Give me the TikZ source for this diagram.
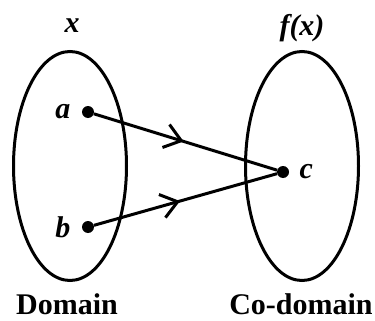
\documentclass[tikz,border=0pt]{standalone}
\usepackage{fontspec}
\setmainfont{Liberation Serif}
\usetikzlibrary{arrows.meta, positioning, shapes.geometric, decorations.markings}

\begin{document}
\begin{tikzpicture}[
    x=1pt, y=-1pt,
    set/.style={
        ellipse, draw=black, line width=3pt,
        minimum width=113pt, minimum height=229pt, inner sep=0pt,
    },
    elem/.style={
        circle, fill=black, inner sep=0pt, minimum size=12pt,
    },
    elemname/.style={
        font=\fontsize{30}{30}\selectfont\bfseries\itshape,
    },
    setname/.style={
        font=\fontsize{30}{30}\selectfont\bfseries,
    },
    maps/.style={
        line width=3pt, postaction={decorate},
        decoration={markings, mark=at position #1 with
            {\arrow{Straight Barb[length=16pt, width=24pt, line width=3pt]}}},
    },
]
\useasboundingbox (0, 0) rectangle (375, 321);

% --- The two sets ---
\node[set] (dom) at (70, 166) {};
\node[set] (codom) at (302, 166) {};

\node[elemname] (domvar) at (72, 26) {x};
\node[elemname] (codomvar) at (302, 28) {f(x)};

\node[setname] (domname) at (67, 304) {Domain};
\node[setname] (codomname) at (301, 304) {Co-domain};

% --- Elements ---
\node[elem] (a) at (88, 112) {};
\node[elem] (b) at (88, 227) {};
\node[elem] (c) at (283, 172) {};

\node[elemname, left=8pt of a] (aname) {a};
\node[elemname, left=8pt of b] (bname) {b};
\node[elemname, right=7pt of c] (cname) {c};

% --- Mapping ---
\draw[maps=0.49] (a) -- (c);
\draw[maps=0.47] (b) -- (c);

\end{tikzpicture}
\end{document}
